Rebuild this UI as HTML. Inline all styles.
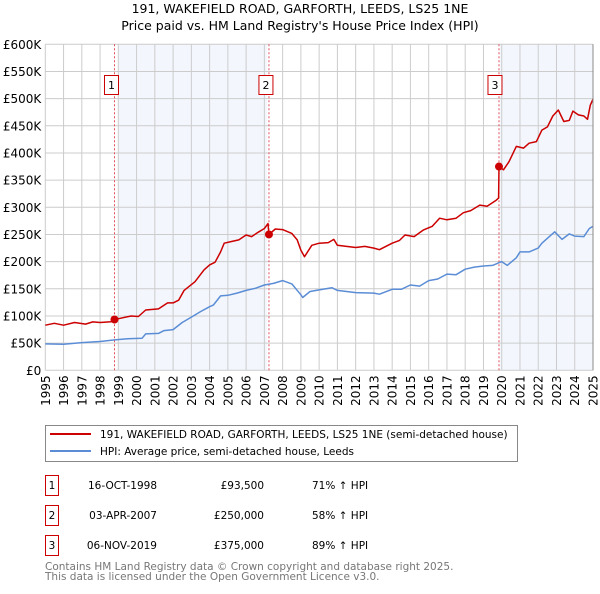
<!DOCTYPE html>
<html><head><meta charset="utf-8"><style>
body{margin:0;background:#fff;font-family:"DejaVu Sans","Liberation Sans",sans-serif;}
svg text{font-family:"DejaVu Sans","Liberation Sans",sans-serif;}
</style></head><body>
<svg id="c" width="600" height="590" viewBox="0 0 600 590" xmlns="http://www.w3.org/2000/svg">
<text x="300" y="13" text-anchor="middle" font-size="12.5">191, WAKEFIELD ROAD, GARFORTH, LEEDS, LS25 1NE</text>
<text x="300" y="30" text-anchor="middle" font-size="12.5">Price paid vs. HM Land Registry's House Price Index (HPI)</text>
<g id="plot"></g>
<g>
<rect x="45.5" y="425.5" width="472" height="36" fill="#fff" stroke="#888"/>
<line x1="50" y1="434" x2="91" y2="434" stroke="#cc0000" stroke-width="2"/>
<text x="100" y="438" font-size="10.5">191, WAKEFIELD ROAD, GARFORTH, LEEDS, LS25 1NE (semi-detached house)</text>
<line x1="50" y1="451" x2="91" y2="451" stroke="#5b8dd6" stroke-width="2"/>
<text x="100" y="455" font-size="10.5">HPI: Average price, semi-detached house, Leeds</text>
</g>
<g font-size="10.5">
<rect x="45.5" y="475.5" width="13" height="20" fill="none" stroke="#cc0000"/><text x="52" y="489" text-anchor="middle">1</text>
<text x="157" y="489" text-anchor="end">16-OCT-1998</text><text x="264" y="489" text-anchor="end">£93,500</text><text x="312" y="489">71% ↑ HPI</text>
<rect x="45.5" y="505.5" width="13" height="20" fill="none" stroke="#cc0000"/><text x="52" y="519" text-anchor="middle">2</text>
<text x="157" y="519" text-anchor="end">03-APR-2007</text><text x="264" y="519" text-anchor="end">£250,000</text><text x="312" y="519">58% ↑ HPI</text>
<rect x="45.5" y="535.5" width="13" height="20" fill="none" stroke="#cc0000"/><text x="52" y="549" text-anchor="middle">3</text>
<text x="157" y="549" text-anchor="end">06-NOV-2019</text><text x="264" y="549" text-anchor="end">£375,000</text><text x="312" y="549">89% ↑ HPI</text>
</g>
<text x="45" y="570" font-size="10.5" fill="#777">Contains HM Land Registry data © Crown copyright and database right 2025.</text>
<text x="45" y="580" font-size="10.5" fill="#777">This data is licensed under the Open Government Licence v3.0.</text>
</svg>
<script>
const yTicks=[0,50,100,150,200,250,300,350,400,450,500,550,600];
const yTickLabels=["£0","£50K","£100K","£150K","£200K","£250K","£300K","£350K","£400K","£450K","£500K","£550K","£600K"];
const xYears=[1995,1996,1997,1998,1999,2000,2001,2002,2003,2004,2005,2006,2007,2008,2009,2010,2011,2012,2013,2014,2015,2016,2017,2018,2019,2020,2021,2022,2023,2024,2025];
const hpiT=[1995,1996,1997,1998,1998.8,1999.5,2000.3,2000.5,2001.2,2001.5,2002,2002.5,2003,2003.5,2004,2004.2,2004.6,2005,2005.5,2006,2006.5,2007,2007.5,2008,2008.5,2009,2009.1,2009.5,2010,2010.7,2011,2012,2013,2013.3,2014,2014.5,2015,2015.5,2016,2016.5,2017,2017.5,2018,2018.5,2019,2019.5,2020,2020.3,2020.8,2021,2021.5,2022,2022.2,2022.9,2023.3,2023.7,2024,2024.5,2024.8,2025];
const hpiV=[48.5,48,51,53,56,58,59,67,68,73,75,88,98,108,117,120,137,138,142,147,151,157,160,165,159,139,134,145,148,152,147,143,142,140,149,149,157,155,165,168,177,176,186,190,192,193,200,193,207,218,218,225,234,255,241,251,247,246,261,265];
const redT=[1995,1995.5,1996,1996.6,1997.2,1997.6,1998,1998.6,1998.8,1999.1,1999.7,2000.1,2000.5,2001.2,2001.7,2002,2002.3,2002.6,2003.2,2003.7,2004,2004.3,2004.6,2004.8,2005.2,2005.6,2006,2006.3,2006.7,2007,2007.2,2007.25,2007.6,2008,2008.5,2008.8,2009,2009.2,2009.6,2010,2010.5,2010.8,2011,2011.5,2012,2012.5,2013,2013.3,2014,2014.4,2014.7,2015.2,2015.7,2016.2,2016.6,2017,2017.5,2017.9,2018.3,2018.8,2019.2,2019.7,2019.83,2019.85,2020.1,2020.4,2020.8,2021.2,2021.5,2021.9,2022.2,2022.5,2022.8,2023.1,2023.4,2023.7,2023.9,2024.2,2024.5,2024.7,2024.85,2025];
const redV=[83,86.5,83,88,85,89,88,89.5,93.5,95.7,100,99,111,113,124,124,129,147,163,185,194,199,218,234,237,240,249,246,255,261,270,250,260,259,252,240,221,209,230,234,235,241,230,228,226,228,225,222,234,239,249,246,258,265,280,277,280,290,294,304,302,313,317,375,369,384,412,409,418,421,442,448,468,479,458,460,477,470,468,462,488,499];
const saleT=[1998.79,2007.25,2019.85];
const saleV=[93.5,250,375];
const saleLabels=["1","2","3"];
const X0=45.3,X1=593,Y0=370.3,Y1=44.3;
const xs=t=>X0+(t-1995)/(2025-1995)*(X1-X0);
const ys=v=>Y0-v/600*(Y0-Y1);
const NS="http://www.w3.org/2000/svg";
const plot=document.getElementById('plot');
function mk(tag,attrs,parent){const e=document.createElementNS(NS,tag);for(const k in attrs)e.setAttribute(k,attrs[k]);(parent||plot).appendChild(e);return e;}
let s1=mk('rect',{x:xs(saleT[0])+4,y:Y1,width:xs(saleT[1])-xs(saleT[0])-6,height:Y0-Y1,fill:'#eef3fc',opacity:0.7});


let s2=mk('rect',{x:xs(saleT[2])+1,y:Y1,width:X1-xs(saleT[2])-1,height:Y0-Y1,fill:'#eef3fc',opacity:0.7});


yTicks.forEach((v,i)=>{
 let l=mk('line',{x1:X0,x2:X1,y1:ys(v),y2:ys(v),stroke:'#cccccc'});
 
 
 let t=mk('text',{x:X0-4,y:ys(v)+4.5,'text-anchor':'end','font-size':'12'});t.textContent=yTickLabels[i];
 
 
});
xYears.forEach(y=>{
 let l=mk('line',{x1:xs(y),x2:xs(y),y1:Y1,y2:Y0,stroke:'#cccccc'});
 
 
 let t=mk('text',{x:0,y:0,'font-size':'12','text-anchor':'end',transform:`translate(${xs(y)+4.5},${Y0+5}) rotate(-90)`});t.textContent=y;
 
 
});
saleT.forEach((t,i)=>{
 let l=mk('line',{x1:xs(t),x2:xs(t),y1:Y1,y2:Y0,stroke:'#e05060','stroke-dasharray':'2,2'});
 
 
 let r=mk('rect',{x:xs(t)-7-(i==2?4:3),y:75.5,width:14,height:19,fill:'#fff',stroke:'#cc0000'});
 
 
 let tx=mk('text',{x:xs(t)-(i==2?4:3),y:89,'text-anchor':'middle','font-size':'11'});tx.textContent=saleLabels[i];
 
 
});
function path(T,V,color,name){
 let d=T.map((t,i)=>(i?'L':'M')+xs(t).toFixed(1)+','+ys(V[i]).toFixed(1)).join('');
 let p=mk('path',{d:d,fill:'none',stroke:color,'stroke-width':1.5,'stroke-linejoin':'round'});
 
 
}
path(hpiT,hpiV,'#5b8dd6','hpi-line');
path(redT,redV,'#cc0000','price-paid-line');
saleT.forEach((t,i)=>{
 let c=mk('circle',{cx:xs(t),cy:ys(saleV[i]),r:4,fill:'#cc0000'});
 
 
});
let ax=mk('line',{x1:X1,x2:X1,y1:Y1,y2:Y0,stroke:'#888'});


</script>
</body></html>
